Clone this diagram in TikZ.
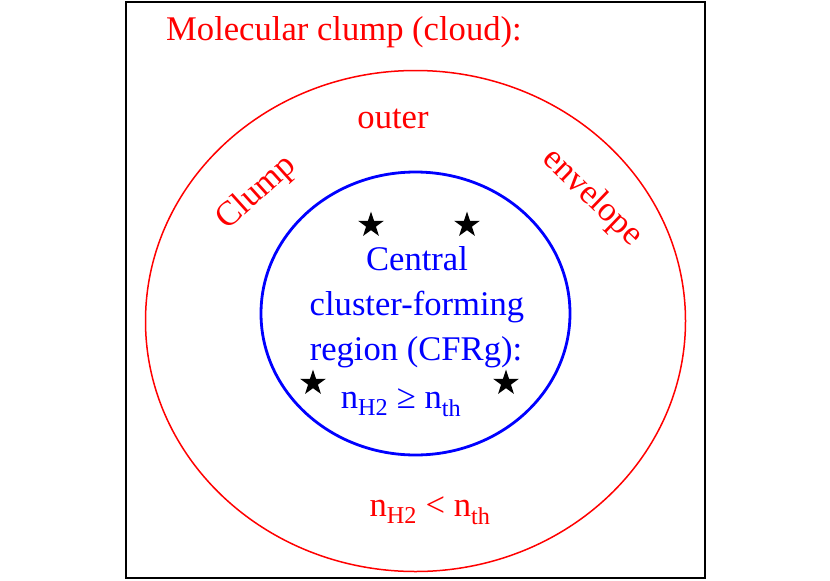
\documentclass[tikz,border=0pt]{standalone}
\usepackage{fontspec}
\setmainfont{Liberation Serif}
\usetikzlibrary{shapes.geometric}

\begin{document}
\begin{tikzpicture}[x=1pt,y=-1pt,
	redtext/.style={text=red,font=\fontsize{34.6}{40}\selectfont,inner sep=0pt},
	bluetext/.style={text=blue,font=\fontsize{34.6}{40}\selectfont,inner sep=0pt},
	starmark/.style={star,star points=5,star point ratio=2.6,fill=black,
		inner sep=0pt,minimum size=27pt}]
	\useasboundingbox (0,0) rectangle (830,581);
	\node[draw,line width=1.2pt,minimum width=579pt,minimum height=576pt,
		inner sep=0pt](frame) at (415.5,290){};
	\node[ellipse,draw=red,line width=1.5pt,minimum width=540pt,
		minimum height=501pt,inner sep=0pt](clump) at (415.5,321){};
	\node[ellipse,draw=blue,line width=2.8pt,minimum width=309pt,
		minimum height=283pt,inner sep=0pt](cfrg) at (415.5,313.5){};
	
	\node[redtext,anchor=base west](title) at (166,40){Molecular clump (cloud):};
	\node[redtext,anchor=base](outer) at (393,128){outer};
	\node[redtext,rotate=42](clumpword) at (257,193){Clump};
	\node[redtext,rotate=-44](envelope) at (592,198){envelope};
	\node[redtext,anchor=base](below) at (430,516)
		{n\textsubscript{H2} < n\textsubscript{th}};
	
	\node[bluetext,anchor=base](central) at (417,270){Central};
	\node[bluetext,anchor=base](cluster) at (417,315){cluster-forming};
	\node[bluetext,anchor=base](region) at (416,360){region (CFRg):};
	\node[bluetext,anchor=base](above) at (401,408)
		{n\textsubscript{H2} ≥ n\textsubscript{th}};
	
	\node[starmark](s1) at (371,225){};
	\node[starmark](s2) at (467,225){};
	\node[starmark](s3) at (313,383){};
	\node[starmark](s4) at (506,383){};
\end{tikzpicture}
\end{document}
